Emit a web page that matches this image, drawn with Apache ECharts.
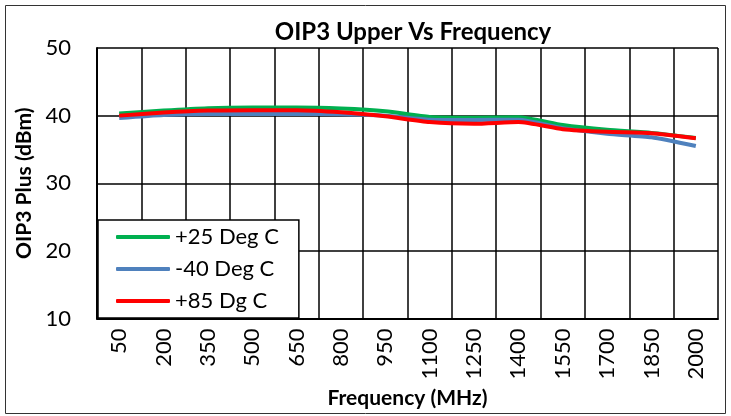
<!DOCTYPE html>
<html>
<head>
<meta charset="utf-8">
<script src="https://cdn.jsdelivr.net/npm/echarts@6/dist/echarts.min.js"></script>
<style>
html,body{margin:0;padding:0;background:#fff;}
#c{width:731px;height:416px;}
</style>
</head>
<body>
<div id="c"></div>
<script>
const categories = ['50','200','350','500','650','800','950','1100','1250','1400','1550','1700','1850','2000'];
const green25 = [40.3, 40.75, 41.1, 41.2, 41.2, 41.05, 40.65, 39.8, 39.7, 39.75, 38.6, 37.9, 37.45, 36.7];
const blue40 = [39.65, 40.1, 40.25, 40.25, 40.25, 40.2, 40.0, 39.4, 39.35, 39.4, 38.15, 37.3, 36.8, 35.5];
const red85 = [40.0, 40.45, 40.75, 40.8, 40.8, 40.5, 39.9, 39.05, 38.8, 39.05, 38.0, 37.6, 37.4, 36.65];
const seriesNames = ['+25 Deg C', '-40 Deg C', '+85 Dg C'];
const yTicks = {min: 10, max: 50, interval: 10};

const chart = echarts.init(document.getElementById('c'), null, {renderer: 'canvas'});
const FONT = 'Lato, "Open Sans", sans-serif';
const mk = (name, data, color) => ({
  name, type: 'line', data, smooth: 0.2, symbol: 'none', showSymbol: false,
  lineStyle: {color, width: 4}, itemStyle: {color}, z: 3
});
chart.setOption({
  animation: false,
  backgroundColor: '#fff',
  title: {
    text: 'OIP3 Upper Vs Frequency', left: 408, top: 15, textAlign: 'center',
    textStyle: {fontFamily: FONT, fontWeight: 'bold', fontSize: 24, color: '#000'}
  },
  graphic: [{
    type: 'rect', shape: {x: 5.5, y: 5.5, width: 720, height: 408}, z: -1,
    style: {fill: 'none', stroke: '#333', lineWidth: 1}
  }],
  grid: {left: 97, right: 13, top: 48, bottom: 97.5, containLabel: false},
  legend: {
    orient: 'vertical', left: 98, top: 220,
    data: seriesNames,
    icon: 'roundRect', itemWidth: 54, itemHeight: 4, itemGap: 10,
    backgroundColor: '#fff', borderColor: '#000', borderWidth: 1.5, borderRadius: 0,
    padding: [6, 20, 6, 18],
    textStyle: {fontFamily: FONT, fontSize: 22, color: '#000', lineHeight: 22},
    z: 10
  },
  xAxis: {
    type: 'category', data: categories, boundaryGap: true,
    name: 'Frequency (MHz)', nameLocation: 'middle', nameGap: 69,
    nameTextStyle: {fontFamily: FONT, fontWeight: 'bold', fontSize: 21, color: '#000'},
    axisLine: {lineStyle: {color: '#000', width: 2}},
    axisTick: {show: false},
    axisLabel: {rotate: 90, interval: 0, margin: 10, fontFamily: FONT, fontSize: 22, color: '#000'},
    splitLine: {show: true, interval: 0, lineStyle: {color: '#000', width: 1.5}}
  },
  yAxis: {
    type: 'value', min: yTicks.min, max: yTicks.max, interval: yTicks.interval,
    name: 'OIP3 Plus (dBm)', nameLocation: 'middle', nameGap: 60, nameRotate: 90,
    nameTextStyle: {fontFamily: FONT, fontWeight: 'bold', fontSize: 21, color: '#000'},
    axisLine: {show: true, lineStyle: {color: '#000', width: 2}},
    axisTick: {show: false},
    axisLabel: {margin: 26, fontFamily: FONT, fontSize: 22, color: '#000'},
    splitLine: {show: true, lineStyle: {color: '#000', width: 1.5}}
  },
  series: [
    mk(seriesNames[0], green25, '#00B050'),
    mk(seriesNames[1], blue40, '#4F81BD'),
    mk(seriesNames[2], red85, '#FF0000')
  ]
});
</script>
</body>
</html>
